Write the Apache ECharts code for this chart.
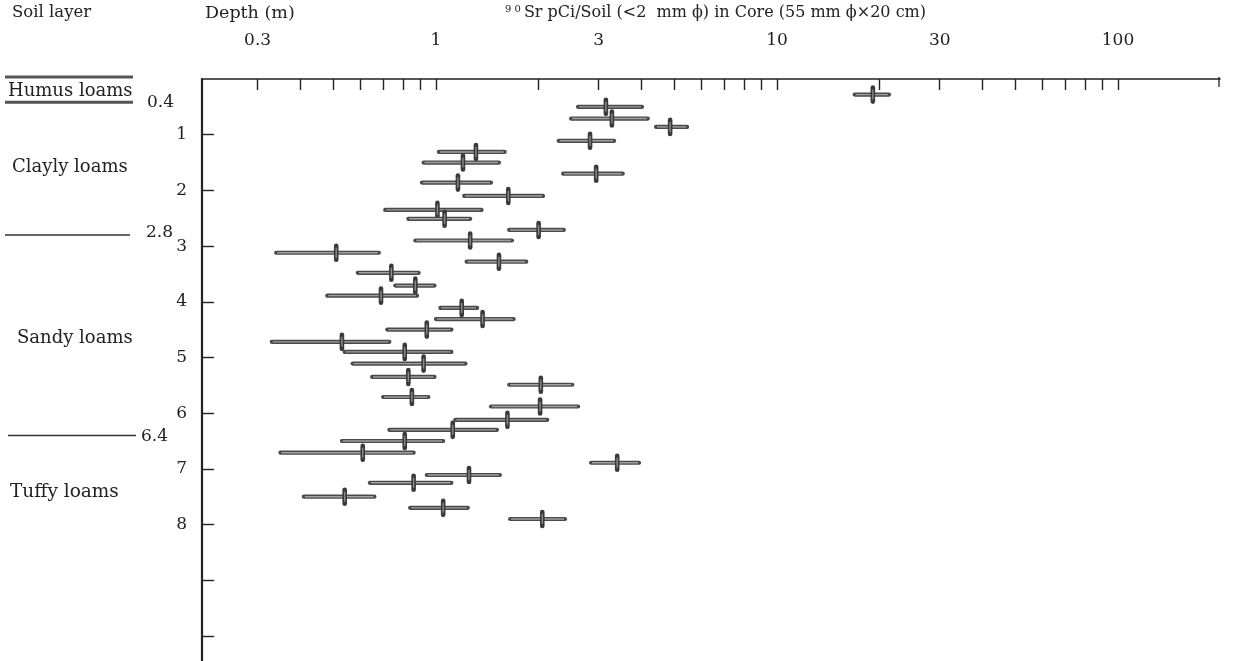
<!DOCTYPE html>
<html><head><meta charset="utf-8">
<script src="https://cdn.jsdelivr.net/npm/echarts@6/dist/echarts.min.js"></script>
<style>html,body{margin:0;padding:0;background:#fff}#c{width:1235px;height:661px}</style>
</head><body><div id="c"></div>
<script>
// Depth (m) of each core sample
const depths  = [0.28,0.50,0.71,0.86,1.11,1.31,1.50,1.70,1.86,2.10,2.35,2.51,2.71,2.90,3.12,3.28,3.48,3.71,3.89,4.11,4.31,4.50,4.72,4.90,5.11,5.35,5.49,5.71,5.88,6.12,6.30,6.50,6.71,6.89,7.11,7.25,7.50,7.70,7.90];
// 90Sr pCi/soil central values
const centers = [19.1,3.15,3.28,4.86,2.83,1.31,1.20,2.95,1.16,1.63,1.01,1.06,2.00,1.26,0.51,1.53,0.74,0.87,0.69,1.19,1.37,0.94,0.53,0.81,0.92,0.83,2.03,0.85,2.02,1.62,1.12,0.81,0.61,3.40,1.25,0.86,0.54,1.05,2.05];
// lower end of range
const lows    = [16.9,2.61,2.49,4.42,2.29,1.02,0.92,2.36,0.91,1.21,0.71,0.83,1.64,0.87,0.34,1.23,0.59,0.76,0.48,1.03,1.00,0.72,0.33,0.54,0.57,0.65,1.64,0.70,1.45,1.14,0.73,0.53,0.35,2.85,0.94,0.64,0.41,0.84,1.65];
// upper end of range
const highs   = [21.3,4.02,4.18,5.45,3.33,1.59,1.53,3.53,1.45,2.06,1.36,1.26,2.37,1.67,0.68,1.84,0.89,0.99,0.88,1.32,1.69,1.11,0.73,1.11,1.22,0.99,2.51,0.95,2.61,2.12,1.51,1.05,0.86,3.94,1.54,1.11,0.66,1.24,2.39];

const xTickValues  = [0.3,0.4,0.5,0.6,0.7,0.8,0.9,1,2,3,4,5,6,7,8,9,10,20,30,40,50,60,70,80,90,100];
const xLabelValues = [0.3,1,3,10,30,100];
const yTickValues  = [1,2,3,4,5,6,7,8,9,10];
const yLabelValues = [1,2,3,4,5,6,7,8];
const layerNames   = ['Humus loams','Clayly loams','Sandy loams','Tuffy loams'];
const layerBounds  = [0,0.4,2.8,6.4];

const FONT = '"DejaVu Serif", serif';
const chart = echarts.init(document.getElementById('c'));
const data = depths.map((d,i)=>[Math.log10(lows[i]),Math.log10(centers[i]),Math.log10(highs[i]),d]);

function renderItem(params, api){
  const d = api.value(3);
  const pL = api.coord([api.value(0), d]);
  const pC = api.coord([api.value(1), d]);
  const pH = api.coord([api.value(2), d]);
  return {type:'group', children:[
    {type:'line', shape:{x1:pL[0],y1:pL[1],x2:pH[0],y2:pH[1]}, style:{stroke:'#4a4a4a',lineWidth:4.2,lineCap:'round'}},
    {type:'line', shape:{x1:pL[0]+1,y1:pL[1],x2:pH[0]-1,y2:pH[1]}, style:{stroke:'#a0a0a0',lineWidth:1.4}},
    {type:'line', shape:{x1:pC[0],y1:pC[1]-7,x2:pC[0],y2:pC[1]+7}, style:{stroke:'#3a3a3a',lineWidth:4.6,lineCap:'round'}},
    {type:'line', shape:{x1:pC[0],y1:pC[1]-5,x2:pC[0],y2:pC[1]+5}, style:{stroke:'#8a8a8a',lineWidth:1.4}}
  ]};
}

chart.setOption({
  animation:false,
  backgroundColor:'#fff',
  grid:{left:202,right:15,top:79,bottom:0},
  xAxis:{
    type:'value', position:'top', min:-0.686, max:2.299,
    splitLine:{show:false},
    axisLine:{show:true,onZero:false,lineStyle:{color:'#222',width:1.6}},
    axisTick:{show:true,inside:true,length:11,lineStyle:{color:'#222',width:1.4},customValues:xTickValues.map(Math.log10)},
    axisLabel:{show:true,margin:30,color:'#222',fontFamily:FONT,fontSize:17,
      customValues:xLabelValues.map(Math.log10),
      formatter:v=>{const r=Math.pow(10,v);return r<1?r.toFixed(1):String(Math.round(r));}}
  },
  yAxis:{
    type:'value', inverse:true, min:0, max:10.45,
    splitLine:{show:false},
    axisLine:{show:true,onZero:false,lineStyle:{color:'#222',width:2.2}},
    axisTick:{show:true,inside:true,length:12,lineStyle:{color:'#222',width:1.4},customValues:yTickValues},
    axisLabel:{show:true,margin:15,color:'#222',fontFamily:FONT,fontSize:17,customValues:yLabelValues}
  },
  series:[{type:'custom',renderItem:renderItem,data:data,encode:{x:[0,1,2],y:3},clip:false,silent:true}]
});

// annotations
const yb = layerBounds.map(b=>chart.convertToPixel({yAxisIndex:0},b));
const g = [
  {type:'text',left:12,top:4,style:{text:'Soil layer',font:'16.5px '+FONT,fill:'#222'}},
  {type:'text',left:205,top:4,style:{text:'Depth (m)',font:'17.5px '+FONT,fill:'#222'}},
  {type:'text',left:505,top:4,style:{rich:{s:{fontSize:10,fontFamily:FONT,fill:'#222',verticalAlign:'top',padding:[0,3,8,0]},n:{fontSize:16,fontFamily:FONT,fill:'#222'}},text:'{s|9 0}{n|Sr pCi/Soil (<2  mm ϕ) in Core (55 mm ϕ×20 cm)}'}},
  {type:'text',left:8,top:yb[0]+3,style:{text:layerNames[0],font:'18px '+FONT,fill:'#222'}},
  {type:'text',left:12,top:158,style:{text:layerNames[1],font:'18px '+FONT,fill:'#222'}},
  {type:'text',left:17,top:329,style:{text:layerNames[2],font:'18px '+FONT,fill:'#222'}},
  {type:'text',left:10,top:483,style:{text:layerNames[3],font:'18.5px '+FONT,fill:'#222'}},
  {type:'line',shape:{x1:5,y1:yb[0]-2,x2:133,y2:yb[0]-2},style:{stroke:'#555',lineWidth:3}},
  {type:'line',shape:{x1:5,y1:yb[1]+1,x2:133,y2:yb[1]+1},style:{stroke:'#555',lineWidth:3}},
  {type:'text',x:174,y:yb[1]+1,style:{text:String(layerBounds[1]),font:'17px '+FONT,fill:'#222',align:'right',verticalAlign:'middle'}},
  {type:'line',shape:{x1:5,y1:yb[2],x2:130,y2:yb[2]},style:{stroke:'#333',lineWidth:1.5}},
  {type:'text',x:173,y:yb[2]-2,style:{text:String(layerBounds[2]),font:'17px '+FONT,fill:'#222',align:'right',verticalAlign:'middle'}},
  {type:'line',shape:{x1:8,y1:yb[3],x2:136,y2:yb[3]},style:{stroke:'#333',lineWidth:1.5}},
  {type:'text',x:168,y:yb[3]+1,style:{text:String(layerBounds[3]),font:'17px '+FONT,fill:'#222',align:'right',verticalAlign:'middle'}},
  {type:'line',shape:{x1:1219,y1:yb[0]-2,x2:1219,y2:yb[0]+8},style:{stroke:'#333',lineWidth:1.4}}
];
chart.setOption({graphic:g});
</script></body></html>
